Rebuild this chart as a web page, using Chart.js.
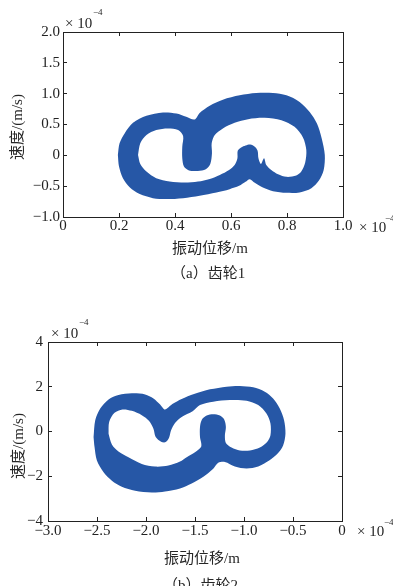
<!DOCTYPE html>
<html lang="zh">
<head>
<meta charset="UTF-8">
<script src="https://cdn.jsdelivr.net/npm/chart.js"></script>
<style>
    body { margin: 0; background: #fff; }
    #page { position: relative; width: 393px; height: 586px; overflow: hidden; background: #fff; }
    canvas { position: absolute; left: 0; }
    .t { position: absolute; white-space: nowrap; color: #262626;
         font-family: "Liberation Serif", "Noto Sans CJK SC", serif; font-size: 15px; line-height: 18px;
         transform: translateY(-50%); }
    .sup { font-size: 9px; line-height: 10px; }
    .rot { transform: translate(-50%, -50%) rotate(-90deg); }
</style>
<title>齿轮相图</title>
</head>
<body>
<div id="page">
    <canvas id="graficoGear1" width="393" height="290" style="top:0"></canvas>
    <canvas id="graficoGear2" width="393" height="296" style="top:290px"></canvas>

    <!-- textos do grafico (a) -->
    <div class="t" style="left:65px; top:23px">× 10</div>
    <div class="t sup" style="left:93px; top:12px">−4</div>
    <div class="t" style="left:359px; top:227px">× 10</div>
    <div class="t sup" style="left:385px; top:218px">−4</div>
    <div class="t rot" style="left:17px; top:127px">速度/(m/s)</div>
    <div class="t" style="left:172px; top:248px">振动位移/m</div>
    <div class="t" style="left:171px; top:273px">（a）齿轮1</div>

    <!-- textos do grafico (b) -->
    <div class="t" style="left:51px; top:333px">× 10</div>
    <div class="t sup" style="left:79px; top:322px">−4</div>
    <div class="t" style="left:357px; top:531px">× 10</div>
    <div class="t sup" style="left:384px; top:522px">−4</div>
    <div class="t rot" style="left:18px; top:446px">速度/(m/s)</div>
    <div class="t" style="left:164px; top:558px">振动位移/m</div>
    <div class="t" style="left:163px; top:585px">（b）齿轮2</div>
</div>

<script>
    // eixos (valores em 1e-4)
    var X1_TICKS = [0, 0.2, 0.4, 0.6, 0.8, 1.0];
    var X1_LABELS = ['0', '0.2', '0.4', '0.6', '0.8', '1.0'];
    var Y1_TICKS = [-1, -0.5, 0, 0.5, 1, 1.5, 2];
    var Y1_LABELS = ['−1.0', '−0.5', '0', '0.5', '1.0', '1.5', '2.0'];

    var X2_TICKS = [-3, -2.5, -2, -1.5, -1, -0.5, 0];
    var X2_LABELS = ['−3.0', '−2.5', '−2.0', '−1.5', '−1.0', '−0.5', '0'];
    var Y2_TICKS = [-4, -2, 0, 2, 4];
    var Y2_LABELS = ['−4', '−2', '0', '2', '4'];

    // engrenagem 1: contorno externo da faixa da trajetoria
    var gear1OuterX = [0.196, 0.202, 0.220, 0.250, 0.298, 0.357, 0.405, 0.440, 0.470, 0.488, 0.524, 0.571, 0.631, 0.690, 0.750, 0.798, 0.845, 0.881, 0.907, 0.924, 0.935, 0.931, 0.914, 0.887, 0.845, 0.798, 0.750, 0.714, 0.685, 0.667, 0.652, 0.629, 0.595, 0.548, 0.488, 0.429, 0.369, 0.321, 0.274, 0.238, 0.214, 0.200, 0.196];
    var gear1OuterY = [0.005, 0.194, 0.355, 0.527, 0.640, 0.694, 0.677, 0.624, 0.581, 0.688, 0.806, 0.903, 0.973, 1.011, 1.011, 0.973, 0.866, 0.704, 0.516, 0.274, 0.005, -0.237, -0.409, -0.532, -0.602, -0.608, -0.581, -0.522, -0.446, -0.387, -0.430, -0.495, -0.548, -0.602, -0.656, -0.694, -0.710, -0.694, -0.629, -0.516, -0.371, -0.183, 0.005];
    // engrenagem 1: buraco interno
    var gear1InnerX = [0.268, 0.276, 0.298, 0.333, 0.375, 0.411, 0.429, 0.426, 0.426, 0.432, 0.450, 0.482, 0.510, 0.526, 0.532, 0.531, 0.542, 0.571, 0.613, 0.661, 0.720, 0.780, 0.827, 0.857, 0.869, 0.865, 0.851, 0.833, 0.798, 0.768, 0.744, 0.726, 0.718, 0.707, 0.698, 0.695, 0.685, 0.669, 0.652, 0.636, 0.624, 0.623, 0.613, 0.593, 0.560, 0.524, 0.482, 0.435, 0.381, 0.333, 0.298, 0.276, 0.268];
    var gear1InnerY = [0.005, 0.194, 0.328, 0.409, 0.435, 0.409, 0.312, 0.140, -0.048, -0.183, -0.247, -0.253, -0.226, -0.140, 0.032, 0.194, 0.328, 0.435, 0.527, 0.586, 0.608, 0.570, 0.462, 0.290, 0.086, -0.118, -0.263, -0.328, -0.349, -0.306, -0.237, -0.156, -0.048, -0.140, -0.048, 0.075, 0.140, 0.177, 0.161, 0.129, 0.075, -0.048, -0.156, -0.237, -0.317, -0.382, -0.425, -0.441, -0.425, -0.371, -0.263, -0.140, 0.005];

    // engrenagem 2: contorno externo
    var gear2OuterX = [-2.535, -2.518, -2.467, -2.382, -2.281, -2.145, -2.009, -1.924, -1.856, -1.806, -1.731, -1.636, -1.510, -1.347, -1.178, -1.042, -0.906, -0.788, -0.703, -0.635, -0.591, -0.577, -0.601, -0.659, -0.743, -0.855, -0.974, -1.093, -1.195, -1.263, -1.314, -1.415, -1.534, -1.653, -1.806, -1.941, -2.111, -2.247, -2.348, -2.433, -2.501, -2.525, -2.535];
    var gear2OuterY = [-0.248, 0.503, 1.029, 1.434, 1.629, 1.704, 1.659, 1.479, 1.209, 0.983, 1.224, 1.449, 1.674, 1.884, 2.005, 2.035, 1.974, 1.779, 1.479, 1.029, 0.503, -0.098, -0.623, -0.998, -1.299, -1.560, -1.650, -1.560, -1.360, -1.400, -1.660, -2.020, -2.320, -2.545, -2.680, -2.725, -2.650, -2.470, -2.200, -1.824, -1.299, -0.698, -0.248];
    // engrenagem 2: buraco interno
    var gear2InnerX = [-2.382, -2.376, -2.321, -2.240, -2.145, -2.043, -1.968, -1.924, -1.901, -1.846, -1.799, -1.765, -1.744, -1.704, -1.636, -1.524, -1.449, -1.314, -1.144, -0.974, -0.855, -0.771, -0.730, -0.730, -0.764, -0.838, -0.940, -1.042, -1.127, -1.185, -1.195, -1.185, -1.202, -1.246, -1.314, -1.381, -1.429, -1.449, -1.449, -1.436, -1.500, -1.585, -1.653, -1.772, -1.907, -2.043, -2.179, -2.281, -2.348, -2.382];
    var gear2InnerY = [-0.098, 0.428, 0.833, 0.983, 0.923, 0.728, 0.473, 0.128, -0.248, -0.458, -0.473, -0.278, 0.053, 0.383, 0.653, 0.908, 1.179, 1.329, 1.404, 1.374, 1.179, 0.803, 0.353, -0.173, -0.473, -0.720, -0.850, -0.850, -0.720, -0.518, -0.173, 0.203, 0.533, 0.713, 0.773, 0.713, 0.533, 0.203, -0.248, -0.668, -0.923, -1.149, -1.344, -1.524, -1.569, -1.449, -1.149, -0.893, -0.578, -0.098];

    var AZUL = '#2657a6';
    var TINTA = '#222222';

    function pontos(xs, ys) {
        return xs.map(function (x, i) { return { x: x, y: ys[i] }; });
    }

    function eixo(pos, valores, rotulos, mostrar, tamanho, pad) {
        return {
            type: 'linear',
            position: pos,
            axis: (pos === 'top' || pos === 'bottom') ? 'x' : 'y',
            min: valores[0],
            max: valores[valores.length - 1],
            afterBuildTicks: function (s) { s.ticks = valores.map(function (v) { return { value: v }; }); },
            afterFit: function (s) {
                if (pos === 'top' || pos === 'bottom') s.height = tamanho; else s.width = tamanho;
            },
            grid: { display: true, drawOnChartArea: false, drawTicks: true, tickLength: -4, tickColor: TINTA, tickWidth: 1 },
            border: { display: true, color: TINTA, width: 1 },
            ticks: {
                display: mostrar, padding: pad, color: TINTA, autoSkip: false, maxRotation: 0,
                font: { family: 'Liberation Serif', size: 15 },
                callback: function (v, i) { return rotulos[i]; }
            }
        };
    }

    function Gerar(id, outerX, outerY, innerX, innerY, xt, xl, yt, yl, cfg) {
        var ctx = document.getElementById(id).getContext('2d');
        return new Chart(ctx, {
            type: 'line',
            data: {
                datasets: [{
                    label: 'inner',
                    data: pontos(innerX, innerY),
                    xAxisID: 'x', yAxisID: 'y',
                    fill: 'shape',
                    backgroundColor: '#ffffff',
                    borderWidth: 0,
                    pointRadius: 0,
                    tension: 0.3
                }, {
                    label: 'outer',
                    data: pontos(outerX, outerY),
                    xAxisID: 'x', yAxisID: 'y',
                    fill: 'shape',
                    backgroundColor: AZUL,
                    borderWidth: 0,
                    pointRadius: 0,
                    tension: 0.3
                }]
            },
            options: {
                responsive: false,
                animation: false,
                devicePixelRatio: 1,
                layout: { padding: { top: cfg.top, right: cfg.right, left: 0, bottom: 0 } },
                plugins: { legend: { display: false }, tooltip: { enabled: false }, title: { display: false } },
                scales: {
                    x: eixo('bottom', xt, xl, true, cfg.xSize, cfg.xPad),
                    x2: eixo('top', xt, xl, false, 0, 0),
                    y: eixo('left', yt, yl, true, cfg.ySize, cfg.yPad),
                    y2: eixo('right', yt, yl, false, 0, 0)
                }
            }
        });
    }

    Gerar('graficoGear1', gear1OuterX, gear1OuterY, gear1InnerX, gear1InnerY,
        X1_TICKS, X1_LABELS, Y1_TICKS, Y1_LABELS,
        { top: 32, right: 50, xSize: 73, ySize: 63, xPad: 4, yPad: 7 });

    Gerar('graficoGear2', gear2OuterX, gear2OuterY, gear2InnerX, gear2InnerY,
        X2_TICKS, X2_LABELS, Y2_TICKS, Y2_LABELS,
        { top: 52, right: 51, xSize: 65, ySize: 48, xPad: 5, yPad: 9 });
</script>
</body>
</html>
